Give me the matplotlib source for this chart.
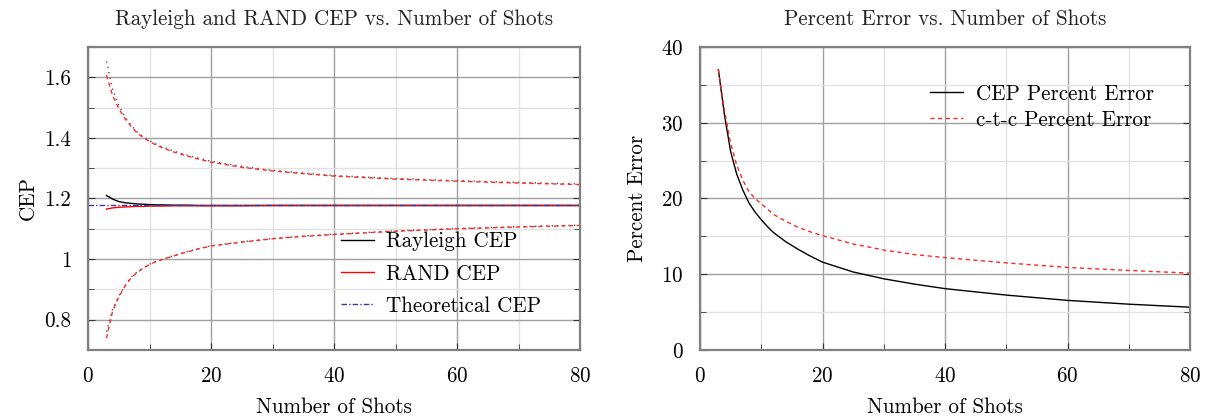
import matplotlib
matplotlib.use("Agg")
import matplotlib.pyplot as plt
from matplotlib.ticker import MultipleLocator

plt.rcParams['font.family'] = ['cmr10', 'DejaVu Serif']
plt.rcParams['axes.formatter.use_mathtext'] = True
plt.rcParams['mathtext.fontset'] = 'cm'

# ---- Left panel data ----
n_left = [3, 4, 5, 6, 7, 8, 9, 10, 11, 12, 14, 16, 18, 20, 25, 30, 35, 40, 50, 60, 70, 80]
rayleigh_cep = [1.210, 1.198, 1.190, 1.186, 1.184, 1.182, 1.181, 1.180, 1.179, 1.179, 1.178, 1.178, 1.177, 1.177, 1.177, 1.177, 1.177, 1.177, 1.177, 1.177, 1.177, 1.177]
rand_cep = [1.165, 1.169, 1.171, 1.172, 1.173, 1.174, 1.174, 1.175, 1.175, 1.175, 1.176, 1.176, 1.176, 1.176, 1.176, 1.177, 1.177, 1.177, 1.177, 1.177, 1.177, 1.177]
theoretical_x = [0, 80]
theoretical_cep = [1.1774, 1.1774]
rand_upper = [1.607, 1.540, 1.497, 1.464, 1.438, 1.416, 1.401, 1.388, 1.377, 1.368, 1.353, 1.341, 1.330, 1.320, 1.303, 1.291, 1.282, 1.274, 1.264, 1.257, 1.251, 1.246]
rand_lower = [0.739, 0.828, 0.875, 0.910, 0.938, 0.956, 0.970, 0.982, 0.991, 0.998, 1.011, 1.023, 1.034, 1.043, 1.056, 1.067, 1.075, 1.081, 1.092, 1.100, 1.106, 1.111]
rayleigh_upper = [1.653, 1.560, 1.508, 1.470, 1.442, 1.419, 1.404, 1.391, 1.380, 1.371, 1.356, 1.344, 1.333, 1.323, 1.306, 1.293, 1.284, 1.276, 1.266, 1.259, 1.253, 1.248]
rayleigh_lower = [0.760, 0.835, 0.878, 0.912, 0.940, 0.958, 0.971, 0.983, 0.992, 0.999, 1.012, 1.024, 1.035, 1.044, 1.057, 1.068, 1.076, 1.082, 1.093, 1.101, 1.107, 1.112]

# ---- Right panel data ----
n_right = [3, 4, 5, 6, 7, 8, 9, 10, 11, 12, 14, 16, 18, 20, 25, 30, 35, 40, 50, 60, 70, 80]
cep_pct_err = [37.0, 31.0, 26.2, 23.2, 21.1, 19.4, 18.2, 17.2, 16.3, 15.5, 14.3, 13.3, 12.4, 11.6, 10.3, 9.4, 8.7, 8.1, 7.25, 6.55, 6.05, 5.65]
ctc_pct_err = [37.0, 31.6, 27.3, 24.4, 22.4, 20.9, 20.0, 19.3, 18.6, 17.9, 17.0, 16.2, 15.6, 15.1, 14.0, 13.2, 12.6, 12.2, 11.5, 10.9, 10.5, 10.15]

FS = 15.2
RED = '#ff2a2a'

fig = plt.figure(figsize=(12.07, 4.19), dpi=100)
ax1 = fig.add_axes([88/1207, 1-350/419, 492/1207, 303/419])
ax2 = fig.add_axes([700/1207, 1-350/419, 490/1207, 303/419])

def style(ax):
    ax.xaxis.set_minor_locator(MultipleLocator(10))
    ax.xaxis.set_major_locator(MultipleLocator(20))
    ax.grid(which='major', color='#a0a0a0', linewidth=1.0)
    ax.grid(which='minor', color='#e2e2e2', linewidth=1.0)
    ax.set_axisbelow(True)
    for s in ax.spines.values():
        s.set_color('#808080')
        s.set_linewidth(1.6)
    ax.tick_params(which='both', direction='in', top=False, right=True,
                   color='#333333', labelsize=FS)
    ax.tick_params(axis='x', pad=12)
    ax.tick_params(axis='y', pad=12)
    ax.tick_params(which='major', length=5)
    ax.tick_params(which='minor', length=4)

# Left
style(ax1)
ax1.plot(n_left, rayleigh_upper, color='#555555', linestyle=(0, (1, 3)), linewidth=1.0)
ax1.plot(n_left, rayleigh_lower, color='#555555', linestyle=(0, (1, 3)), linewidth=1.0)
ax1.plot(n_left, rand_upper, color=RED, linestyle=(0, (3, 2.5)), linewidth=1.0)
ax1.plot(n_left, rand_lower, color=RED, linestyle=(0, (3, 2.5)), linewidth=1.0)
ax1.plot(n_left, rayleigh_cep, color='black', linewidth=1.0, label='Rayleigh CEP')
ax1.plot(n_left, rand_cep, color='red', linewidth=1.0, label='RAND CEP')
ax1.plot(theoretical_x, theoretical_cep, color='#3a3aa0', linestyle=(0, (4, 1.5, 1, 1.5)),
         linewidth=1.0, label='Theoretical CEP')
ax1.set_xlim(0, 80)
ax1.set_ylim(0.7, 1.7)
ax1.yaxis.set_minor_locator(MultipleLocator(0.1))
ax1.set_yticks([0.8, 1.0, 1.2, 1.4, 1.6])
ax1.set_yticklabels(['0.8', '1', '1.2', '1.4', '1.6'])
ax1.set_title('Rayleigh and RAND CEP vs. Number of Shots', fontsize=FS, color='#222222', pad=16)
ax1.set_xlabel('Number of Shots', fontsize=FS, labelpad=8)
ax1.set_ylabel('CEP', fontsize=FS, labelpad=5)
ax1.legend(loc='lower right', bbox_to_anchor=(0.96, 0.05), frameon=False, fontsize=FS,
           handlelength=1.55, handletextpad=0.6, labelspacing=0.6)

# Right
style(ax2)
ax2.plot(n_right, cep_pct_err, color='black', linewidth=1.0, label='CEP Percent Error')
ax2.plot(n_right, ctc_pct_err, color=RED, linestyle=(0, (3, 2.5)), linewidth=1.0,
         label='c-t-c Percent Error')
ax2.set_xlim(0, 80)
ax2.set_ylim(0, 40)
ax2.yaxis.set_major_locator(MultipleLocator(10))
ax2.yaxis.set_minor_locator(MultipleLocator(5))
ax2.set_title('Percent Error vs. Number of Shots', fontsize=FS, color='#222222', pad=16)
ax2.set_xlabel('Number of Shots', fontsize=FS, labelpad=8)
ax2.set_ylabel('Percent Error', fontsize=FS, labelpad=10)
ax2.legend(loc='upper right', bbox_to_anchor=(0.965, 0.94), frameon=False, fontsize=FS,
           handlelength=1.55, handletextpad=0.6, labelspacing=0.3)

fig.savefig('out.png', dpi=100)
